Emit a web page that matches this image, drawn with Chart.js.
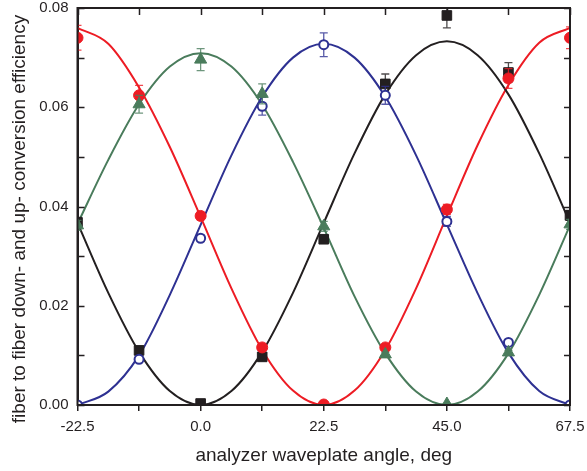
<!DOCTYPE html>
<html>
<head>
<meta charset="utf-8">
<script src="https://cdn.jsdelivr.net/npm/chart.js@4.4.1/dist/chart.umd.min.js"></script>
<style>
  html, body { margin: 0; padding: 0; background: #ffffff; }
  #wrap { position: relative; width: 587px; height: 471px; }
</style>
</head>
<body>
<div id="wrap"><canvas id="c" width="587" height="471"></canvas></div>
<script>
// ---- data ----
const angles = [-22.5, -11.25, 0, 11.25, 22.5, 33.75, 45, 56.25, 67.5];
const blackVals = [0.0368, 0.0110, 0.0003, 0.0097, 0.0334, 0.0647, 0.0785, 0.0670, 0.0382];
const redVals   = [0.0740, 0.0624, 0.0381, 0.0116, 0.0001, 0.0116, 0.0394, 0.0658, 0.0740];
const blueVals  = [0.0000, 0.0092, 0.0336, 0.0602, 0.0726, 0.0624, 0.0370, 0.0126, 0.0000];
const greenVals = [0.0362, 0.0606, 0.0696, 0.0627, 0.0360, 0.0102, 0.0002, 0.0106, 0.0364];

const blackErr = [0.0010, 0.0005, 0.0003, 0.0004, 0.0008, 0.0020, 0.0025, 0.0020, 0.0010];
const redErr   = [0.0025, 0.0020, 0.0008, 0.0004, 0.0002, 0.0004, 0.0010, 0.0020, 0.0022];
const blueErr  = [0.0000, 0.0003, 0.0006, 0.0018, 0.0024, 0.0018, 0.0010, 0.0004, 0.0000];
const greenErr = [0.0010, 0.0018, 0.0022, 0.0020, 0.0010, 0.0004, 0.0001, 0.0004, 0.0010];

// fitted curves
const fitAngles = [-22.5, -16.875, -11.25, -5.625, 0, 5.625, 11.25, 16.875, 22.5,
                   28.125, 33.75, 39.375, 45, 50.625, 56.25, 61.875, 67.5];
const blackFit = [0.0367, 0.0226, 0.0107, 0.0028, 0.0000, 0.0028, 0.0107, 0.0226, 0.0367,
                  0.0507, 0.0626, 0.0705, 0.0733, 0.0705, 0.0626, 0.0507, 0.0367];
const redFit   = [0.0760, 0.0728, 0.0640, 0.0520, 0.0379, 0.0235, 0.0111, 0.0029, 0.0000,
                  0.0029, 0.0111, 0.0235, 0.0381, 0.0524, 0.0645, 0.0730, 0.0760];
const blueFit  = [0.0000, 0.0027, 0.0100, 0.0222, 0.0363, 0.0503, 0.0621, 0.0700, 0.0728,
                  0.0700, 0.0621, 0.0503, 0.0364, 0.0225, 0.0105, 0.0028, 0.0000];
const greenFit = [0.0365, 0.0494, 0.0606, 0.0682, 0.0709, 0.0682, 0.0605, 0.0490, 0.0357,
                  0.0219, 0.0104, 0.0027, 0.0000, 0.0027, 0.0104, 0.0222, 0.0362];

const xTickValues = [-22.5, 0, 22.5, 45, 67.5];
const yTickValues = [0.00, 0.02, 0.04, 0.06, 0.08];

const xTitle = 'analyzer waveplate angle, deg';
const yTitle = 'fiber to fiber down- and up- conversion efficiency';

// ---- styles ----
const axisColor = '#231f20';
const cBlack = '#231f20', cRed = '#ed1c24', cBlue = '#2e3192', cGreen = '#4a7c5c';
const FONT = "'Liberation Sans', Arial, sans-serif";

const pts = (xs, ys) => xs.map((x, i) => ({x: x, y: ys[i]}));

function curve(vals, color) {
  return { data: pts(fitAngles, vals), showLine: true, borderColor: color, borderWidth: 2,
           pointRadius: 0, cubicInterpolationMode: 'monotone', clip: 0, order: 2 };
}
function marks(vals, errs, color, style, radius, fill, bw) {
  return { data: pts(angles, vals), errs: errs, showLine: false, pointStyle: style,
           pointRadius: radius, pointBackgroundColor: fill, pointBorderColor: color,
           pointBorderWidth: bw, borderColor: color, clip: 0, order: 1,
           errColor: color };
}

const errorBars = {
  id: 'errorBars',
  beforeDatasetDraw(chart, args) {
    const ds = chart.data.datasets[args.index];
    if (!ds.errs) return;
    const {ctx, chartArea: a, scales: {x, y}} = chart;
    ctx.save();
    ctx.beginPath();
    ctx.rect(a.left, a.top, a.width, a.height);
    ctx.clip();
    ctx.strokeStyle = ds.errColor;
    ctx.globalAlpha = 0.8;
    ctx.lineWidth = 1.3;
    ds.data.forEach((p, i) => {
      const e = ds.errs[i];
      if (!e) return;
      const px = x.getPixelForValue(p.x);
      const y1 = y.getPixelForValue(p.y + e), y2 = y.getPixelForValue(p.y - e);
      ctx.beginPath();
      ctx.moveTo(px, y1); ctx.lineTo(px, y2);
      ctx.moveTo(px - 4, y1); ctx.lineTo(px + 4, y1);
      ctx.moveTo(px - 4, y2); ctx.lineTo(px + 4, y2);
      ctx.stroke();
    });
    ctx.restore();
  }
};

const frame = {
  id: 'frame',
  afterDatasetsDraw(chart) {
    const {ctx, chartArea: a, scales: {x, y}} = chart;
    ctx.save();
    ctx.strokeStyle = axisColor;
    ctx.lineWidth = 1.5;
    ctx.beginPath();
    x.ticks.forEach(t => {
      const px = Math.round(x.getPixelForValue(t.value)) + 0.5;
      ctx.moveTo(px, a.top); ctx.lineTo(px, a.top + 7);
    });
    y.ticks.forEach(t => {
      const py = Math.round(y.getPixelForValue(t.value)) + 0.5;
      ctx.moveTo(a.left, py); ctx.lineTo(a.left + 7, py);
      ctx.moveTo(a.right, py); ctx.lineTo(a.right - 6, py);
    });
    ctx.stroke();
    ctx.lineWidth = 2;
    ctx.strokeRect(a.left, a.top, a.width, a.height);
    // y-axis title
    ctx.fillStyle = axisColor;
    ctx.font = '19px ' + FONT;
    ctx.textAlign = 'center';
    ctx.textBaseline = 'middle';
    ctx.translate(20, 219);
    ctx.rotate(-Math.PI / 2);
    ctx.fillText(yTitle, 0, 0);
    ctx.restore();
  }
};

new Chart(document.getElementById('c'), {
  type: 'scatter',
  data: {
    datasets: [
      curve(blackFit, cBlack), curve(redFit, cRed), curve(blueFit, cBlue), curve(greenFit, cGreen),
      marks(greenVals, greenErr, cGreen, 'triangle', 7, cGreen, 1),
      marks(blueVals, blueErr, cBlue, 'circle', 4.5, '#ffffff', 2),
      marks(redVals, redErr, cRed, 'circle', 5.5, cRed, 1),
      marks(blackVals, blackErr, cBlack, 'rect', 6.8, cBlack, 1)
    ]
  },
  options: {
    responsive: false,
    animation: false,
    events: [],
    layout: { padding: { top: 5.5, right: 17, left: 0, bottom: 0 } },
    plugins: { legend: { display: false }, tooltip: { enabled: false } },
    scales: {
      x: {
        type: 'linear', min: -22.5, max: 67.5,
        afterFit(s) { s.height = 66; s.paddingLeft = 0; s.paddingRight = 0; },
        border: { display: true, color: axisColor, width: 2 },
        grid: { drawOnChartArea: false, drawTicks: true, tickLength: 6, color: axisColor, lineWidth: 1.5 },
        ticks: {
          stepSize: 11.25, autoSkip: false, maxRotation: 0, padding: 7,
          color: axisColor, font: { family: FONT, size: 15 },
          callback: v => xTickValues.some(t => Math.abs(t - v) < 1e-6) ? v.toFixed(1) : ''
        },
        title: { display: true, text: xTitle, color: axisColor,
                 font: { family: FONT, size: 19 }, padding: { top: 0, bottom: 4 } }
      },
      y: {
        type: 'linear', min: 0, max: 0.08,
        afterFit(s) { s.width = 77.5; s.paddingTop = 0; s.paddingBottom = 0; },
        border: { display: true, color: axisColor, width: 2 },
        grid: { drawOnChartArea: false, drawTicks: false },
        ticks: {
          stepSize: 0.01, autoSkip: false, padding: 9,
          color: axisColor, font: { family: FONT, size: 15 },
          callback: v => yTickValues.some(t => Math.abs(t - v) < 1e-9) ? v.toFixed(2) : ''
        }
      }
    }
  },
  plugins: [errorBars, frame]
});
</script>
</body>
</html>
